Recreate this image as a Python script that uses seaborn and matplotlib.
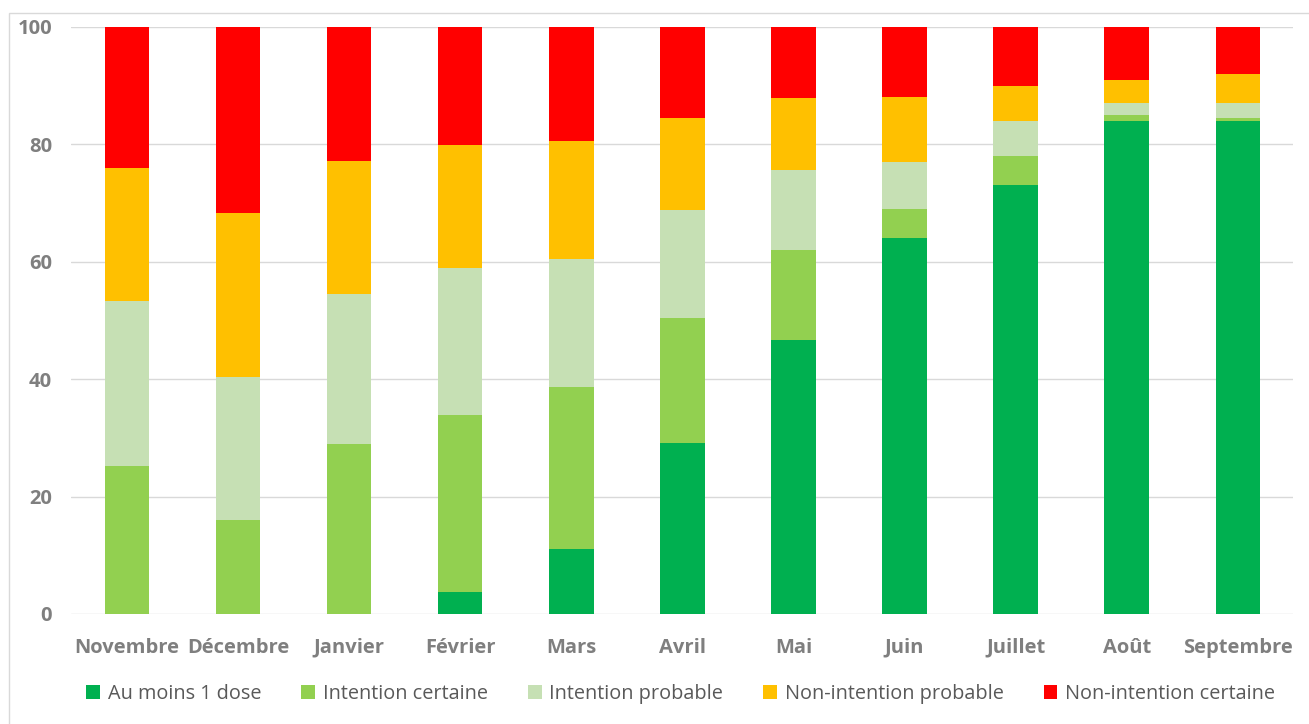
import matplotlib
matplotlib.use("Agg")
import matplotlib.pyplot as plt
import seaborn as sns
import numpy as np
from matplotlib.patches import Patch, Rectangle

months = ["Novembre", "Décembre", "Janvier", "Février", "Mars", "Avril",
          "Mai", "Juin", "Juillet", "Août", "Septembre"]
au_moins_1_dose = [0, 0, 0, 3.7, 11.0, 29.2, 46.7, 64.0, 73.0, 84.0, 84.0]
intention_certaine = [25.2, 16.0, 29.0, 30.1, 27.6, 21.2, 15.3, 5.0, 5.0, 1.0, 0.5]
intention_probable = [28.1, 24.3, 25.5, 25.1, 21.9, 18.4, 13.6, 8.0, 6.0, 2.0, 2.5]
non_intention_probable = [22.7, 28.0, 22.7, 20.9, 20.1, 15.6, 12.2, 11.0, 6.0, 4.0, 5.0]
non_intention_certaine = [24.0, 31.7, 22.8, 20.2, 19.4, 15.6, 12.2, 12.0, 10.0, 9.0, 8.0]

series_names = ["Au moins 1 dose", "Intention certaine", "Intention probable",
                "Non-intention probable", "Non-intention certaine"]
series = [au_moins_1_dose, intention_certaine, intention_probable,
          non_intention_probable, non_intention_certaine]
colors = ["#00b050", "#92d050", "#c6e0b4", "#ffc000", "#ff0000"]

sns.set_theme(style="white")
plt.rcParams['font.family'] = ['Open Sans', 'DejaVu Sans']

fig = plt.figure(figsize=(13.09, 7.24), dpi=100)
ax = fig.add_axes([0.0546, 0.152, 0.9334, 0.811])

cum = np.cumsum(np.array(series), axis=0)
# draw from the top-most cumulative total down so lower segments overlay
for i in range(len(series) - 1, -1, -1):
    sns.barplot(x=months, y=cum[i], color=colors[i], width=0.4, saturation=1,
                ax=ax, zorder=3, linewidth=0, edgecolor="none")

ax.set_ylim(0, 100)
ax.set_xlim(-0.5, 10.5)
ax.set_yticks([0, 20, 40, 60, 80, 100])
ax.yaxis.grid(True, color="#d9d9d9", linewidth=1, zorder=0)
ax.set_axisbelow(True)
for s in ax.spines.values():
    s.set_visible(False)
ax.tick_params(axis="both", length=0, colors="#7f7f7f")
ax.tick_params(axis="y", pad=14)
ax.tick_params(axis="x", pad=17)
for lab in ax.get_xticklabels() + ax.get_yticklabels():
    lab.set_fontweight("bold")
    lab.set_fontsize(14.5)
    lab.set_color("#7f7f7f")
ax.set_xlabel("")
ax.set_ylabel("")

handles = [Patch(facecolor=c, edgecolor="none") for c in colors]
fig.legend(handles, series_names, loc="center", bbox_to_anchor=(0.52, 0.041),
           ncol=5, frameon=False, fontsize=14.3, handlelength=0.7,
           handleheight=0.7, handletextpad=0.4, columnspacing=2.0,
           labelcolor="#595959")

fig.patches.append(Rectangle((9 / 1309, -0.05), 1.2, 1 - 13 / 724 + 0.05,
                             transform=fig.transFigure, fill=False,
                             edgecolor="#d9d9d9", linewidth=1))

fig.savefig("out.png", dpi=100)
